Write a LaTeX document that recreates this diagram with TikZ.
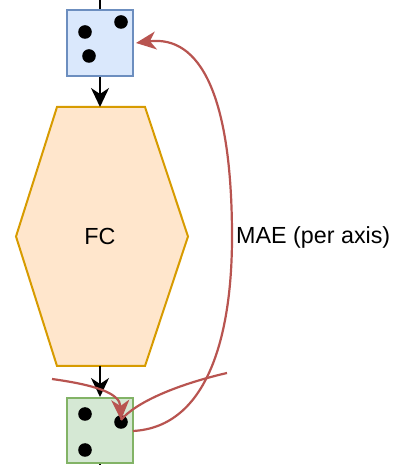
\documentclass[tikz,border=0pt]{standalone}
\usepackage{fontspec}
\setmainfont{Liberation Sans}
\usetikzlibrary{arrows.meta}
\definecolor{bluefill}{HTML}{DAE8FC}
\definecolor{bluedraw}{HTML}{6C8EBF}
\definecolor{orfill}{HTML}{FFE6CC}
\definecolor{ordraw}{HTML}{D79B00}
\definecolor{grfill}{HTML}{D5E8D4}
\definecolor{grdraw}{HTML}{82B366}
\definecolor{redline}{HTML}{B85450}
\begin{document}
\begin{tikzpicture}[x=1pt,y=1pt,
  dicebox/.style={draw, line width=2pt, minimum width=66pt, minimum height=66pt, inner sep=0pt},
  pip/.style={fill=black},
  flow/.style={draw=black, line width=2.2pt, -{Stealth[length=19pt,width=18pt,inset=6pt]}},
  loss/.style={draw=redline, line width=2.2pt},
  lossarrow/.style={loss, -{Stealth[length=20pt,width=18pt,inset=6pt]}},
  lbl/.style={font=\fontsize{23.3}{28}\selectfont, inner sep=0pt}
]
\useasboundingbox (0,0) rectangle (395,465);
% boxes
\node[dicebox, fill=bluefill, draw=bluedraw] (inp) at (100,422) {};
\node[dicebox, fill=grfill, draw=grdraw, minimum height=65pt] (outp) at (100,34.5) {};
% pips
\fill[pip] (121,443) circle (6.8);
\fill[pip] (85,433) circle (6.8);
\fill[pip] (89,409) circle (6.8);
\fill[pip] (85,51) circle (6.8);
\fill[pip] (121,43) circle (6.8);
\fill[pip] (85,15) circle (6.8);
% hexagon
\draw[fill=orfill, draw=ordraw, line width=2pt, line join=miter]
  (57,358) -- (145,358) -- (188,228.5) -- (145,99) -- (57,99) -- (16,228.5) -- cycle;
\node[lbl] (fc) at (100,228.5) {FC};
\coordinate (hextop) at (100,358);
\coordinate (hexbot) at (100,99);
% black flow
\coordinate (topin) at (100,465);
\coordinate (botout) at (100,0);
\draw[line width=2.2pt] (topin) -- (inp.north);
\draw[line width=2.2pt] (outp.south) -- (botout);
\draw[flow] (inp.south) -- (hextop);
\draw[flow] (hexbot) -- (outp.north);
% red curves
\coordinate (lstart) at (133,34);
\coordinate (lmid) at (232,228);
\coordinate (ltip) at (136,422);
\draw[lossarrow] (lstart) .. controls (208,38) and (232,130) .. (lmid)
  .. controls (232,370) and (200,430) .. (ltip);
\coordinate (astart) at (52,86);
\coordinate (bstart) at (227,92);
\coordinate (atip) at (121,45);
\draw[loss] (bstart) .. controls (175,80) and (135,62) .. (atip);
\draw[lossarrow] (astart) .. controls (95,80) and (120,72) .. (atip);
\node[lbl, anchor=west] (mae) at (236,228) {MAE (per axis)};
\end{tikzpicture}
\end{document}
